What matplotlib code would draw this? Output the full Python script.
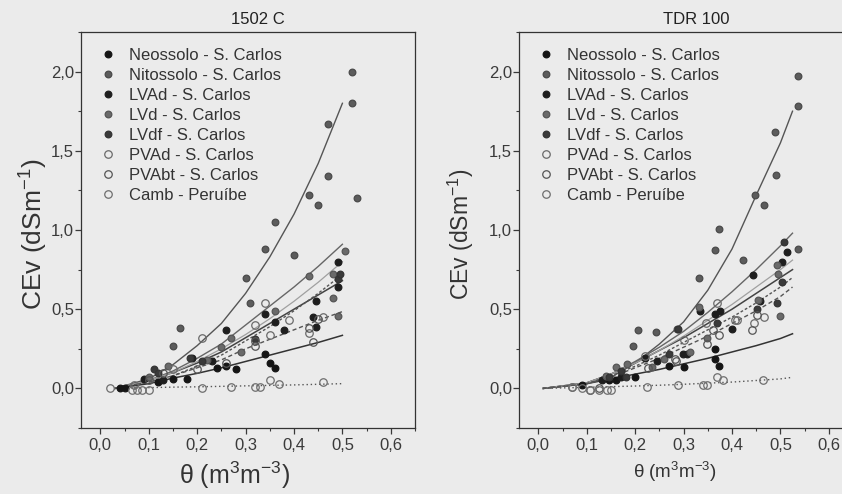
import matplotlib.pyplot as plt
from matplotlib.ticker import MultipleLocator, FuncFormatter

plt.rcParams['font.family'] = ['Liberation Sans', 'DejaVu Sans']
plt.rcParams['mathtext.fontset'] = 'custom'
plt.rcParams['mathtext.rm'] = 'Liberation Sans'
plt.rcParams['mathtext.it'] = 'Liberation Sans'

names = ['Neossolo - S. Carlos', 'Nitossolo - S. Carlos', 'LVAd - S. Carlos',
         'LVd - S. Carlos', 'LVdf - S. Carlos', 'PVAd - S. Carlos',
         'PVAbt - S. Carlos', 'Camb - Peruíbe']
titles = ['1502 C', 'TDR 100']

# ---- 1502 C : measured points ----
pts_1502 = {
    'Neossolo - S. Carlos': ([0.04, 0.05, 0.12, 0.15, 0.18, 0.24, 0.26, 0.28, 0.34, 0.35, 0.36],
                             [0.0, 0.0, 0.04, 0.06, 0.06, 0.13, 0.14, 0.12, 0.22, 0.16, 0.13]),
    'Nitossolo - S. Carlos': ([0.15, 0.165, 0.30, 0.31, 0.34, 0.36, 0.40, 0.43, 0.45, 0.47, 0.47, 0.52, 0.52, 0.53],
                              [0.27, 0.38, 0.70, 0.54, 0.88, 1.05, 0.84, 1.22, 1.16, 1.67, 1.34, 2.00, 1.80, 1.20]),
    'LVAd - S. Carlos': ([0.09, 0.13, 0.19, 0.23, 0.26, 0.34, 0.36, 0.38, 0.44, 0.445, 0.445, 0.49, 0.49],
                         [0.06, 0.05, 0.19, 0.17, 0.37, 0.47, 0.42, 0.37, 0.45, 0.39, 0.55, 0.80, 0.64]),
    'LVd - S. Carlos': ([0.10, 0.14, 0.22, 0.25, 0.27, 0.29, 0.36, 0.43, 0.48, 0.48, 0.49, 0.505],
                        [0.07, 0.14, 0.18, 0.26, 0.32, 0.23, 0.49, 0.71, 0.72, 0.57, 0.46, 0.87]),
    'LVdf - S. Carlos': ([0.11, 0.12, 0.185, 0.21, 0.32, 0.49, 0.495],
                         [0.12, 0.10, 0.19, 0.17, 0.31, 0.69, 0.72]),
    'PVAd - S. Carlos': ([0.07, 0.15, 0.21, 0.32, 0.34, 0.35, 0.39, 0.43, 0.46],
                         [0.02, 0.12, 0.32, 0.40, 0.54, 0.34, 0.43, 0.35, 0.45]),
    'PVAbt - S. Carlos': ([0.10, 0.13, 0.20, 0.26, 0.32, 0.32, 0.43, 0.44, 0.45],
                          [0.05, 0.10, 0.12, 0.16, 0.27, 0.30, 0.38, 0.29, 0.44]),
    'Camb - Peruíbe': ([0.02, 0.065, 0.075, 0.085, 0.10, 0.21, 0.27, 0.32, 0.33, 0.35, 0.37, 0.46],
                       [0.0, -0.01, -0.01, -0.01, -0.01, 0.0, 0.01, 0.01, 0.01, 0.05, 0.03, 0.04]),
}

# ---- 1502 C : fitted curves ----
fit_x_1502 = [0.03, 0.10, 0.15, 0.20, 0.25, 0.30, 0.35, 0.40, 0.45, 0.50]
fit_1502 = {
    'Neossolo - S. Carlos': [0.0, 0.03, 0.065, 0.095, 0.13, 0.17, 0.21, 0.25, 0.29, 0.335],
    'Nitossolo - S. Carlos': [0.0, 0.06, 0.15, 0.27, 0.41, 0.60, 0.83, 1.10, 1.42, 1.80],
    'LVAd - S. Carlos': [0.0, 0.05, 0.10, 0.16, 0.23, 0.32, 0.41, 0.50, 0.59, 0.68],
    'LVd - S. Carlos': [0.0, 0.05, 0.11, 0.19, 0.28, 0.40, 0.52, 0.64, 0.77, 0.91],
    'LVdf - S. Carlos': [0.0, 0.05, 0.10, 0.17, 0.25, 0.34, 0.44, 0.55, 0.67, 0.80],
    'PVAd - S. Carlos': [0.0, 0.04, 0.08, 0.14, 0.21, 0.30, 0.39, 0.49, 0.60, 0.72],
    'PVAbt - S. Carlos': [0.0, 0.04, 0.08, 0.13, 0.18, 0.25, 0.31, 0.37, 0.43, 0.485],
    'Camb - Peruíbe': [0.0, 0.005, 0.008, 0.01, 0.013, 0.016, 0.019, 0.022, 0.026, 0.03],
}

# ---- TDR 100 : measured points ----
pts_tdr = {
    'Neossolo - S. Carlos': ([0.09, 0.145, 0.16, 0.20, 0.27, 0.30, 0.364, 0.364, 0.374],
                             [0.02, 0.05, 0.05, 0.07, 0.14, 0.133, 0.25, 0.186, 0.14]),
    'Nitossolo - S. Carlos': ([0.196, 0.206, 0.243, 0.286, 0.331, 0.365, 0.374, 0.422, 0.447, 0.467, 0.489, 0.49, 0.536, 0.536, 0.536],
                              [0.27, 0.37, 0.353, 0.374, 0.70, 0.873, 1.006, 0.81, 1.22, 1.16, 1.62, 1.35, 1.97, 1.78, 0.878]),
    'LVAd - S. Carlos': ([0.132, 0.17, 0.22, 0.246, 0.298, 0.308, 0.333, 0.364, 0.376, 0.399, 0.444, 0.458, 0.503, 0.513],
                         [0.05, 0.07, 0.19, 0.176, 0.218, 0.22, 0.49, 0.47, 0.49, 0.377, 0.715, 0.55, 0.80, 0.862]),
    'LVd - S. Carlos': ([0.139, 0.16, 0.184, 0.234, 0.26, 0.314, 0.332, 0.348, 0.454, 0.492, 0.496, 0.50],
                        [0.08, 0.133, 0.155, 0.133, 0.186, 0.23, 0.515, 0.32, 0.56, 0.778, 0.725, 0.456]),
    'LVdf - S. Carlos': ([0.145, 0.17, 0.18, 0.27, 0.288, 0.451, 0.492, 0.503, 0.508, 0.37],
                         [0.07, 0.112, 0.07, 0.218, 0.377, 0.503, 0.54, 0.672, 0.926, 0.41]),
    'PVAd - S. Carlos': ([0.07, 0.22, 0.30, 0.347, 0.368, 0.406, 0.41, 0.445, 0.467],
                         [0.01, 0.207, 0.307, 0.41, 0.54, 0.43, 0.43, 0.41, 0.45]),
    'PVAbt - S. Carlos': ([0.107, 0.125, 0.226, 0.283, 0.284, 0.349, 0.36, 0.374, 0.442, 0.451],
                          [-0.01, 0.0, 0.13, 0.186, 0.176, 0.28, 0.37, 0.34, 0.366, 0.465]),
    'Camb - Peruíbe': ([0.069, 0.09, 0.107, 0.125, 0.142, 0.150, 0.224, 0.289, 0.34, 0.349, 0.369, 0.382, 0.465],
                       [0.01, 0.0, -0.01, -0.01, -0.01, -0.01, 0.01, 0.023, 0.02, 0.02, 0.07, 0.05, 0.053]),
}

# ---- TDR 100 : fitted curves ----
fit_x_tdr = [0.01, 0.10, 0.15, 0.20, 0.25, 0.30, 0.35, 0.40, 0.45, 0.50, 0.525]
fit_tdr = {
    'Neossolo - S. Carlos': [0.0, 0.03, 0.06, 0.09, 0.12, 0.155, 0.19, 0.23, 0.27, 0.315, 0.345],
    'Nitossolo - S. Carlos': [0.0, 0.03, 0.07, 0.16, 0.28, 0.42, 0.62, 0.88, 1.22, 1.55, 1.75],
    'LVAd - S. Carlos': [0.0, 0.035, 0.09, 0.16, 0.24, 0.32, 0.41, 0.50, 0.60, 0.70, 0.75],
    'LVd - S. Carlos': [0.0, 0.035, 0.09, 0.17, 0.26, 0.36, 0.48, 0.61, 0.75, 0.90, 0.98],
    'LVdf - S. Carlos': [0.0, 0.035, 0.09, 0.16, 0.24, 0.33, 0.43, 0.53, 0.64, 0.75, 0.81],
    'PVAd - S. Carlos': [0.0, 0.03, 0.08, 0.14, 0.21, 0.29, 0.37, 0.45, 0.54, 0.64, 0.70],
    'PVAbt - S. Carlos': [0.0, 0.03, 0.07, 0.13, 0.19, 0.26, 0.33, 0.41, 0.49, 0.58, 0.64],
    'Camb - Peruíbe': [0.0, 0.007, 0.011, 0.015, 0.02, 0.026, 0.033, 0.04, 0.05, 0.06, 0.07],
}

# marker style per series: (face, edge)
mstyle = {
    'Neossolo - S. Carlos': ('#151515', '#151515'),
    'Nitossolo - S. Carlos': ('#5c5c5c', '#4a4a4a'),
    'LVAd - S. Carlos': ('#1e1e1e', '#1e1e1e'),
    'LVd - S. Carlos': ('#6a6a6a', '#555555'),
    'LVdf - S. Carlos': ('#3a3a3a', '#333333'),
    'PVAd - S. Carlos': ('none', '#6a6a6a'),
    'PVAbt - S. Carlos': ('none', '#555555'),
    'Camb - Peruíbe': ('none', '#6e6e6e'),
}
lstyle = {
    'Neossolo - S. Carlos': ('-', '#333333', 1.1),
    'Nitossolo - S. Carlos': ('-', '#555555', 1.0),
    'LVAd - S. Carlos': ('-', '#444444', 1.1),
    'LVd - S. Carlos': ('-', '#666666', 1.0),
    'LVdf - S. Carlos': ('-', '#a0a0a0', 0.9),
    'PVAd - S. Carlos': ((0, (2, 1.5)), '#555555', 1.0),
    'PVAbt - S. Carlos': ((0, (3, 2)), '#555555', 1.0),
    'Camb - Peruíbe': ((0, (1, 2)), '#555555', 1.0),
}

# axis-label sizes / places differ between the two scanned panels
xlab_size = [18, 13.5]
ylab_size = [19, 16.5]
ylab_x = [-0.092, -0.13]
xlab_x = [0.46, 0.467]

bg = '#ebebeb'
fig = plt.figure(figsize=(8.42, 4.94), dpi=100, facecolor=bg)
ax1 = fig.add_axes([0.0962, 0.1336, 0.3967, 0.8016])
ax2 = fig.add_axes([0.6164, 0.1336, 0.3967, 0.8016])

comma = FuncFormatter(lambda v, p: ('%.1f' % v).replace('.', ','))

panels = [(ax1, pts_1502, fit_x_1502, fit_1502), (ax2, pts_tdr, fit_x_tdr, fit_tdr)]
for i, (ax, pts, fx, fits) in enumerate(panels):
    ax.set_facecolor(bg)
    for n in names:
        ls, lc, lw = lstyle[n]
        ax.plot(fx, fits[n], linestyle=ls, color=lc, lw=lw, zorder=2)
    for n in names:
        fc, ec = mstyle[n]
        x, y = pts[n]
        ax.plot(x, y, 'o', ls='none', ms=4.8 if fc != 'none' else 5.4,
                mfc=fc, mec=ec, mew=0.9, label=n, zorder=3)
    ax.set_xlim(-0.04, 0.65)
    ax.set_ylim(-0.25, 2.25)
    ax.xaxis.set_major_locator(MultipleLocator(0.1))
    ax.xaxis.set_minor_locator(MultipleLocator(0.05))
    ax.yaxis.set_major_locator(MultipleLocator(0.5))
    ax.yaxis.set_minor_locator(MultipleLocator(0.25))
    ax.xaxis.set_major_formatter(comma)
    ax.yaxis.set_major_formatter(comma)
    ax.tick_params(which='major', direction='out', length=4, width=0.9,
                   labelsize=12, colors='#3a3a3a', pad=3)
    ax.tick_params(axis='y', which='major', pad=1)
    ax.tick_params(which='minor', direction='out', length=2.5, width=0.8, colors='#3a3a3a')
    for s in ax.spines.values():
        s.set_color('#333333')
        s.set_linewidth(0.9)
    ax.set_title(titles[i], fontsize=12, color='#222222', pad=6, x=0.53)
    ax.set_xlabel(r'$\mathregular{\theta\ (m^3m^{-3})}$', fontsize=xlab_size[i], color='#333333')
    ax.set_ylabel(r'$\mathregular{CEv\ (dSm^{-1})}$', fontsize=ylab_size[i], color='#333333')
    ax.xaxis.set_label_coords(xlab_x[i], -0.08)
    ax.yaxis.set_label_coords(ylab_x[i], 0.49)
    ax.legend(loc='upper left', bbox_to_anchor=(0.02, 0.99), frameon=False,
              fontsize=12, labelspacing=0.3, handletextpad=0.8,
              handlelength=1.0, borderaxespad=0.3, labelcolor='#333333')

fig.savefig('out.png', dpi=100, facecolor=bg)
